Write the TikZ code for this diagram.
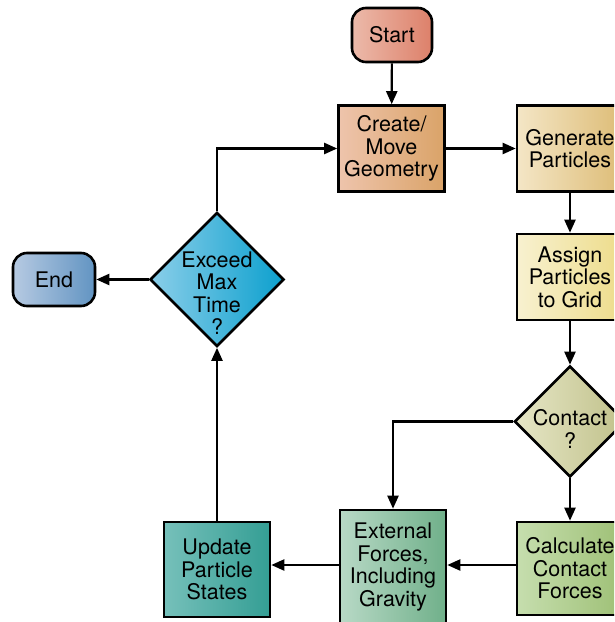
\documentclass[tikz,border=0pt]{standalone}
\usepackage{fontspec}
\setmainfont{TeX Gyre Heros}
\usetikzlibrary{shapes.geometric,arrows.meta}

% gradient fills, light on the left, darker on the right
\definecolor{startL}{RGB}{236,186,170}\definecolor{startR}{RGB}{221,128,106}
\definecolor{createL}{RGB}{238,196,172}\definecolor{createR}{RGB}{218,163,104}
\definecolor{genL}{RGB}{244,230,198}\definecolor{genR}{RGB}{221,188,118}
\definecolor{assignL}{RGB}{248,241,208}\definecolor{assignR}{RGB}{237,220,138}
\definecolor{contactL}{RGB}{230,230,198}\definecolor{contactR}{RGB}{192,193,138}
\definecolor{calcL}{RGB}{198,222,174}\definecolor{calcR}{RGB}{158,192,118}
\definecolor{extL}{RGB}{184,217,198}\definecolor{extR}{RGB}{112,176,138}
\definecolor{updL}{RGB}{118,192,186}\definecolor{updR}{RGB}{52,158,148}
\definecolor{exL}{RGB}{138,206,233}\definecolor{exR}{RGB}{12,160,206}
\definecolor{endL}{RGB}{182,202,226}\definecolor{endR}{RGB}{98,148,194}

\tikzset{
  lbl/.style={font=\fontsize{21.5}{22.5}\selectfont, align=center},
  blk/.style={lbl, draw=black, line width=2.6pt, inner sep=0pt},
  procbox/.style={blk, minimum width=106, minimum height=86},
  termbox/.style={blk, rounded corners=14, minimum height=54},
  decide/.style={blk, diamond, aspect=1, inner sep=0pt},
  shade/.style 2 args={left color=#1, right color=#2},
  arr/.style={line width=2.2pt, -{Triangle[length=13pt,width=11pt]}},
}

\begin{document}
\begin{tikzpicture}[x=1pt,y=-1pt]
\useasboundingbox (0,0) rectangle (614,622);
\clip (0,0) rectangle (614,622);

% terminals
\node[termbox, shade={startL}{startR}, minimum width=80] (start) at (392,35) {Start};
\node[termbox, shade={endL}{endR}, minimum width=82, minimum height=53] (end) at (54,279.5) {End};

% process boxes
\node[procbox, shade={createL}{createR}] (create) at (391.5,148.5) {Create/\\Move\\Geometry};
\node[procbox, shade={genL}{genR}] (gen) at (570,148.5) {Generate\\Particles};
\node[procbox, shade={assignL}{assignR}] (assign) at (570,277) {Assign\\Particles\\to Grid};
\node[procbox, shade={calcL}{calcR}, minimum height=93] (calc) at (570,568.5) {Calculate\\Contact\\Forces};
\node[procbox, shade={extL}{extR}, minimum height=114] (ext) at (393,567) {External\\Forces,\\Including\\Gravity};
\node[procbox, shade={updL}{updR}, minimum height=95] (update) at (217,569.5) {Update\\Particle\\States};

% decisions
\node[decide, shade={contactL}{contactR}, minimum size=111] (contact) at (570,421.5) {};
\node[lbl] (contacttxt) at (570,429) {Contact\\?};
\node[decide, shade={exL}{exR}, minimum size=134] (exceed) at (217,279.5) {};
\node[lbl] (exceedtxt) at (217,293) {Exceed\\Max\\Time\\?};

% flow
\coordinate (row) at (0,565);
\draw[arr] (start) -- (create);
\draw[arr] (create) -- (gen);
\draw[arr] (gen) -- (assign);
\draw[arr] (assign) -- (contact);
\draw[arr] (contact) -- (calc);
\draw[arr] (contact.west) -| (ext.north);
\draw[arr] (row -| calc.west) -- (row -| ext.east);
\draw[arr] (row -| ext.west) -- (row -| update.east);
\draw[arr] (update) -- (exceed);
\draw[arr] (exceed) -- (end);
\draw[arr] (exceed.north) |- (create.west);
\end{tikzpicture}
\end{document}
